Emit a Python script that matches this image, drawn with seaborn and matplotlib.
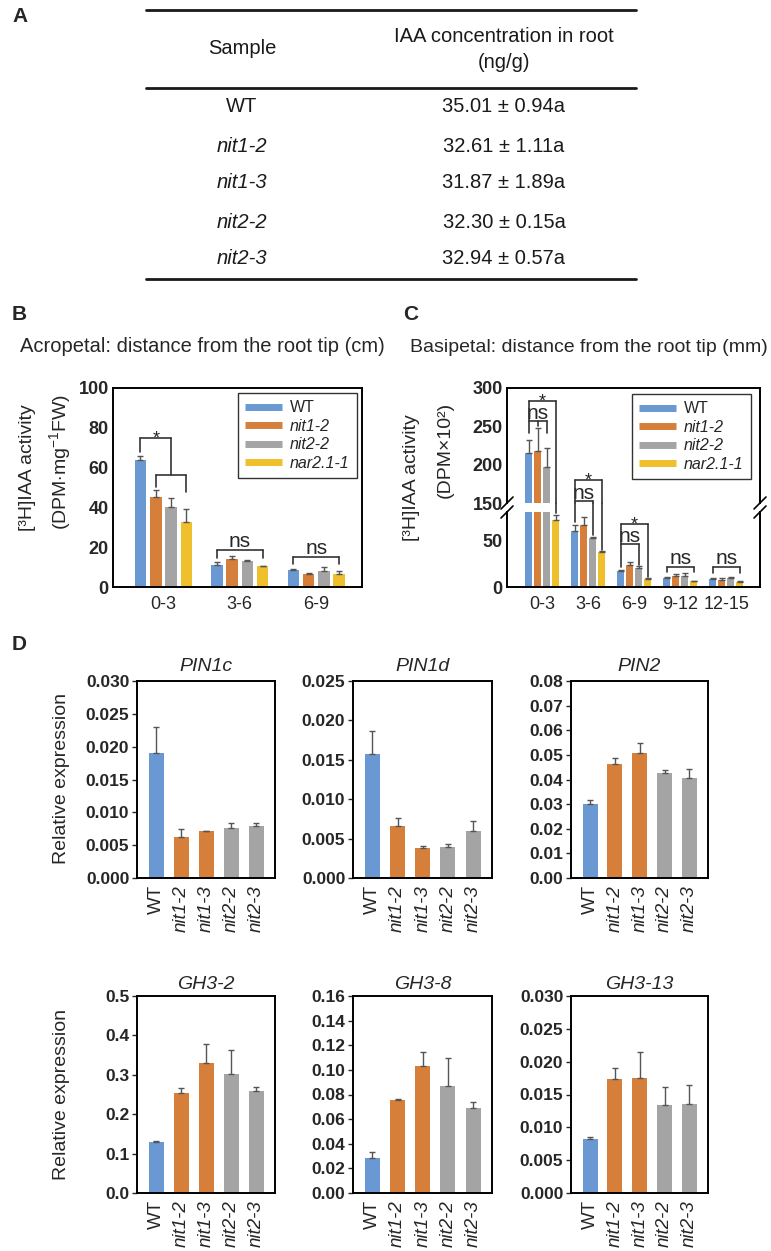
import matplotlib
matplotlib.use("Agg")
import matplotlib.pyplot as plt
from matplotlib.lines import Line2D
import seaborn as sns
import pandas as pd

# ---- A: IAA content table ----
table_samples = ["WT", "nit1-2", "nit1-3", "nit2-2", "nit2-3"]
table_iaa = ["35.01 \u00b1 0.94a", "32.61 \u00b1 1.11a", "31.87 \u00b1 1.89a",
             "32.30 \u00b1 0.15a", "32.94 \u00b1 0.57a"]

# ---- B / C: [3H]IAA transport ----
genotypes = ["WT", "nit1-2", "nit2-2", "nar2.1-1"]

acro_segments = ["0-3", "3-6", "6-9"]
acro_wt = [63.8, 11.3, 8.7]
acro_nit12 = [45.4, 14.1, 6.4]
acro_nit22 = [40.0, 12.9, 8.1]
acro_nar = [32.8, 10.4, 6.7]
acro_wt_err = [2.0, 1.5, 0.3]
acro_nit12_err = [3.3, 1.7, 0.8]
acro_nit22_err = [4.5, 0.7, 2.0]
acro_nar_err = [6.2, 0.3, 1.2]

basi_segments = ["0-3", "3-6", "6-9", "9-12", "12-15"]
basi_wt = [214.8, 60.0, 16.6, 10.0, 8.6]
basi_nit12 = [218.2, 66.4, 23.0, 11.4, 7.8]
basi_nit22 = [197.4, 52.8, 20.0, 12.0, 10.0]
basi_nar = [71.8, 37.8, 8.4, 6.0, 5.4]
basi_wt_err = [18.0, 6.5, 1.6, 1.0, 0.5]
basi_nit12_err = [29.0, 8.3, 3.8, 2.5, 1.5]
basi_nit22_err = [24.0, 0.5, 2.6, 2.5, 0.6]
basi_nar_err = [5.3, 1.0, 1.0, 0.5, 0.5]

# ---- D: relative expression ----
lines = ["WT", "nit1-2", "nit1-3", "nit2-2", "nit2-3"]
genes = ["PIN1c", "PIN1d", "PIN2", "GH3-2", "GH3-8", "GH3-13"]
pin1c = [0.0191, 0.0063, 0.0071, 0.0076, 0.0079]
pin1c_err = [0.0039, 0.0012, 0.0001, 0.0008, 0.0005]
pin1d = [0.0157, 0.0066, 0.0038, 0.0039, 0.0060]
pin1d_err = [0.0030, 0.0010, 0.0002, 0.0004, 0.0012]
pin2 = [0.0300, 0.0462, 0.0507, 0.0428, 0.0405]
pin2_err = [0.0018, 0.0024, 0.0043, 0.0011, 0.0037]
gh3_2 = [0.130, 0.254, 0.329, 0.301, 0.260]
gh3_2_err = [0.002, 0.012, 0.048, 0.061, 0.009]
gh3_8 = [0.0284, 0.0757, 0.1032, 0.0865, 0.0689]
gh3_8_err = [0.0046, 0.0003, 0.0110, 0.0230, 0.0049]
gh3_13 = [0.0082, 0.0173, 0.0175, 0.0134, 0.0135]
gh3_13_err = [0.0003, 0.0017, 0.0039, 0.0027, 0.0029]

sns.set_style("ticks")
plt.rcParams["font.family"] = ["Liberation Sans", "DejaVu Sans"]
plt.rcParams["mathtext.fontset"] = "custom"
plt.rcParams["mathtext.rm"] = "Liberation Sans"
plt.rcParams["mathtext.it"] = "Liberation Sans:italic"
plt.rcParams["mathtext.bf"] = "Liberation Sans:bold"

blue, orange, grey, yellow = "#6a98d2", "#d57f3b", "#a4a4a4", "#f0bf2c"
ink = "#1a1a1a"
err_col = "#555555"
W, H = 771, 1251
fig = plt.figure(figsize=(W / 100, H / 100), dpi=100)


def box(l, t, r, b):
    return [l / W, 1 - b / H, (r - l) / W, (b - t) / H]


def fx(x):
    return x / W


def fy(y):
    return 1 - y / H


def to_fig(ax, x, y):
    d = ax.transData.transform((x, y))
    return fig.transFigure.inverted().transform(d)


def seg(ax1, x1, y1, ax2, x2, y2, lw=1.2):
    p1 = to_fig(ax1, x1, y1)
    p2 = to_fig(ax2, x2, y2)
    fig.add_artist(Line2D([p1[0], p2[0]], [p1[1], p2[1]], color="#333333", lw=lw))


def add_errors(ax, errs, n_hue, width):
    step = width / n_hue
    for bar in ax.patches:
        h = bar.get_height()
        if not h == h or h == 0:
            continue
        xc = bar.get_x() + bar.get_width() / 2
        j = int(round(xc))
        k = int(round((xc - j) / step + (n_hue - 1) / 2))
        ax.errorbar(xc, h, yerr=[[0], [errs[k][j]]], fmt="none", ecolor=err_col,
                    elinewidth=1, capsize=2.2, capthick=1)


def frame(ax, lw=1.4):
    for s in ax.spines.values():
        s.set_linewidth(lw)
        s.set_color("black")


def bold_yticks(ax, ticks, fmt, size):
    ax.set_yticks(ticks)
    ax.set_yticklabels([fmt.format(t) for t in ticks], fontweight="bold", fontsize=size)


# ================= A =================
fig.text(fx(12), fy(16), "A", fontsize=15, fontweight="bold", ha="left", va="center")
for yy in (10, 88, 279):
    fig.add_artist(Line2D([fx(146), fx(636)], [fy(yy), fy(yy)], color=ink, lw=2))
fig.text(fx(242), fy(49), "Sample", fontsize=14.5, ha="center", va="center", color=ink)
fig.text(fx(504), fy(37), "IAA concentration in root", fontsize=14.5, ha="center", va="center", color=ink)
fig.text(fx(504), fy(63), "(ng/g)", fontsize=14.5, ha="center", va="center", color=ink)
for i, (s, v) in enumerate(zip(table_samples, table_iaa)):
    y = [107, 146, 183, 222, 259][i]
    fig.text(fx(242), fy(y), s, fontsize=14.5, ha="center", va="center", color=ink,
             fontstyle="normal" if s == "WT" else "italic")
    fig.text(fx(504), fy(y), v, fontsize=14.5, ha="center", va="center", color=ink)

pal = dict(zip(genotypes, [blue, orange, grey, yellow]))


def geno_legend(ax, anchor):
    handles = [Line2D([0], [0], color=pal[g], lw=5, solid_capstyle="butt") for g in genotypes]
    leg = ax.legend(handles, genotypes, loc="upper right", bbox_to_anchor=anchor, borderaxespad=0,
                    fancybox=False, edgecolor="#333333", fontsize=11.5, handlelength=2.3,
                    handletextpad=0.5, labelspacing=0.22, borderpad=0.45, framealpha=1)
    leg.get_frame().set_linewidth(1)
    for t in leg.get_texts():
        if t.get_text() != "WT":
            t.set_fontstyle("italic")


# ================= B =================
fig.text(fx(12), fy(315), "B", fontsize=15, fontweight="bold", ha="left", va="center")
fig.text(fx(202), fy(347), "Acropetal: distance from the root tip (cm)", fontsize=14.5,
         ha="center", va="center")
acro = pd.DataFrame({
    "segment": acro_segments * 4,
    "genotype": [g for g in genotypes for _ in acro_segments],
    "activity": acro_wt + acro_nit12 + acro_nit22 + acro_nar,
})
ax_b = fig.add_axes(box(113, 388, 362, 587))
sns.barplot(acro, x="segment", y="activity", hue="genotype", order=acro_segments,
            hue_order=genotypes, palette=pal, width=0.8, gap=0.25, saturation=1,
            errorbar=None, legend=False, linewidth=0, ax=ax_b)
add_errors(ax_b, [acro_wt_err, acro_nit12_err, acro_nit22_err, acro_nar_err], 4, 0.8)
ax_b.set_xlim(-0.66, 2.6)
ax_b.set_ylim(0, 100)
bold_yticks(ax_b, [0, 20, 40, 60, 80, 100], "{:d}", 13)
ax_b.tick_params(axis="y", length=0, pad=3)
ax_b.tick_params(axis="x", length=0, pad=6.5, labelsize=13)
ax_b.set_xlabel("")
ax_b.set_ylabel("")
frame(ax_b)
geno_legend(ax_b, (0.98, 0.975))
fig.text(fx(28), fy(468), "[\u00b3H]IAA activity", rotation=90, fontsize=14, ha="center", va="center")
fig.text(fx(60), fy(462), r"(DPM$\cdot$mg$^{-1}$FW)", rotation=90, fontsize=14, ha="center", va="center")


def bx(segment, k):
    return segment + (k - 1.5) * 0.2


# significance marks, B
seg(ax_b, bx(0, 0), 74.7, ax_b, bx(0, 2), 74.7)
seg(ax_b, bx(0, 0), 74.7, ax_b, bx(0, 0), 68)
seg(ax_b, bx(0, 2), 74.7, ax_b, bx(0, 2), 56.3)
seg(ax_b, bx(0, 1), 56.3, ax_b, bx(0, 3), 56.3)
seg(ax_b, bx(0, 1), 56.3, ax_b, bx(0, 1), 50.4)
seg(ax_b, bx(0, 3), 56.3, ax_b, bx(0, 3), 47.7)
ax_b.annotate("*", ((bx(0, 0) + bx(0, 2)) / 2, 74.7), xytext=(0, -4), textcoords="offset points",
              ha="center", va="baseline", fontsize=13)
for s, top, foot in ((1, 18.5, 14.8), (2, 15.1, 11.8)):
    seg(ax_b, bx(s, 0), top, ax_b, bx(s, 3), top)
    seg(ax_b, bx(s, 0), top, ax_b, bx(s, 0), foot)
    seg(ax_b, bx(s, 3), top, ax_b, bx(s, 3), foot)
    ax_b.annotate("ns", (s, top), xytext=(0, 2), textcoords="offset points",
                  ha="center", va="baseline", fontsize=15)

# ================= C =================
fig.text(fx(403), fy(315), "C", fontsize=15, fontweight="bold", ha="left", va="center")
fig.text(fx(589), fy(347), "Basipetal: distance from the root tip (mm)", fontsize=14,
         ha="center", va="center")
basi = pd.DataFrame({
    "segment": basi_segments * 4,
    "genotype": [g for g in genotypes for _ in basi_segments],
    "activity": basi_wt + basi_nit12 + basi_nit22 + basi_nar,
})
basi_errs = [basi_wt_err, basi_nit12_err, basi_nit22_err, basi_nar_err]
ax_ct = fig.add_axes(box(507, 388, 760, 503))
ax_cb = fig.add_axes(box(507, 512, 760, 587))
for ax in (ax_ct, ax_cb):
    sns.barplot(basi, x="segment", y="activity", hue="genotype", order=basi_segments,
                hue_order=genotypes, palette=pal, width=0.78, gap=0.22, saturation=1,
                errorbar=None, legend=False, linewidth=0, ax=ax)
    add_errors(ax, basi_errs, 4, 0.78)
    ax.set_xlim(-0.77, 4.73)
    ax.set_xlabel("")
    ax.set_ylabel("")
    frame(ax)
    ax.tick_params(axis="y", length=0, pad=3)
    ax.tick_params(axis="x", length=0, pad=6.5, labelsize=13)
ax_ct.set_ylim(150, 300)
ax_cb.set_ylim(0, 80)
bold_yticks(ax_ct, [150, 200, 250, 300], "{:d}", 13)
bold_yticks(ax_cb, [0, 50], "{:d}", 13)
ax_ct.set_xticks([])
ax_ct.spines["bottom"].set_visible(False)
ax_cb.spines["top"].set_visible(False)
geno_legend(ax_ct, (0.964, 0.948))
for xb in (507, 760):
    for y0 in (503, 512):
        fig.add_artist(Line2D([fx(xb - 6), fx(xb + 6)], [fy(y0 + 6), fy(y0 - 6)], color="black", lw=1.2))
fig.text(fx(412), fy(478), "[\u00b3H]IAA activity", rotation=90, fontsize=14, ha="center", va="center")
fig.text(fx(445), fy(450), "(DPM\u00d710\u00b2)", rotation=90, fontsize=14, ha="center", va="center")

# value in lower axis that sits where the upper axis ends
gap_low = ax_cb.transData.inverted().transform(ax_ct.transData.transform((0, 150)))[1]


def cx(segment, k):
    return segment + (k - 1.5) * 0.195


def leg_down(k_seg, k, top, foot, top_ax, foot_ax):
    x = cx(k_seg, k)
    if top_ax is foot_ax:
        seg(top_ax, x, top, foot_ax, x, foot)
    else:
        seg(ax_ct, x, top, ax_ct, x, 150)
        seg(ax_cb, x, gap_low, ax_cb, x, foot)


# 0-3
seg(ax_ct, cx(0, 0), 283.4, ax_ct, cx(0, 3), 283.4)
leg_down(0, 0, 283.4, 241, ax_ct, ax_ct)
leg_down(0, 3, 283.4, 79, ax_ct, ax_cb)
seg(ax_ct, cx(0, 0), 257, ax_ct, cx(0, 2), 257)
leg_down(0, 2, 257, 241, ax_ct, ax_ct)
leg_down(0, 1, 257, 250, ax_ct, ax_ct)
ax_ct.annotate("*", (0, 283.4), xytext=(0, -4), textcoords="offset points",
               ha="center", va="baseline", fontsize=13)
ax_ct.annotate("ns", (cx(0, 1), 257), xytext=(0, 1.5), textcoords="offset points",
               ha="center", va="baseline", fontsize=15)
# 3-6
seg(ax_ct, cx(1, 0), 180, ax_ct, cx(1, 3), 180)
seg(ax_ct, cx(1, 0), 153, ax_ct, cx(1, 2), 153)
leg_down(1, 0, 180, 69, ax_ct, ax_cb)
leg_down(1, 2, 153, 55, ax_ct, ax_cb)
leg_down(1, 3, 180, 40, ax_ct, ax_cb)
ax_ct.annotate("*", (1, 180), xytext=(0, -4), textcoords="offset points",
               ha="center", va="baseline", fontsize=13)
ax_ct.annotate("ns", (cx(1, 1), 153), xytext=(0, 1.5), textcoords="offset points",
               ha="center", va="baseline", fontsize=15)
# 6-9
seg(ax_cb, cx(2, 0), 67.5, ax_cb, cx(2, 3), 67.5)
seg(ax_cb, cx(2, 0), 46, ax_cb, cx(2, 2), 46)
leg_down(2, 0, 67.5, 21.6, ax_cb, ax_cb)
leg_down(2, 2, 46, 24, ax_cb, ax_cb)
leg_down(2, 3, 67.5, 11, ax_cb, ax_cb)
ax_cb.annotate("*", (2, 67.5), xytext=(0, -4), textcoords="offset points",
               ha="center", va="baseline", fontsize=13, annotation_clip=False)
ax_cb.annotate("ns", (cx(2, 1), 46), xytext=(0, 1.5), textcoords="offset points",
               ha="center", va="baseline", fontsize=15)
# 9-12, 12-15
for s, foot in ((3, 16.3), (4, 15.0)):
    seg(ax_cb, cx(s, 0), 21.6, ax_cb, cx(s, 3), 21.6)
    leg_down(s, 0, 21.6, foot, ax_cb, ax_cb)
    leg_down(s, 3, 21.6, foot, ax_cb, ax_cb)
    ax_cb.annotate("ns", (s, 21.6), xytext=(0, 2), textcoords="offset points",
                   ha="center", va="baseline", fontsize=15)

# ================= D =================
fig.text(fx(12), fy(645), "D", fontsize=15, fontweight="bold", ha="left", va="center")
d_values = [pin1c, pin1d, pin2, gh3_2, gh3_8, gh3_13]
d_errs = [pin1c_err, pin1d_err, pin2_err, gh3_2_err, gh3_8_err, gh3_13_err]
d_scale = [(0.030, 0.005, "{:.3f}"), (0.025, 0.005, "{:.3f}"), (0.08, 0.01, "{:.2f}"),
           (0.5, 0.1, "{:.1f}"), (0.16, 0.02, "{:.2f}"), (0.030, 0.005, "{:.3f}")]
line_pal = dict(zip(lines, [blue, orange, orange, grey, grey]))
cols = [(137, 275), (353, 492), (571, 708)]
rows = [(681, 878), (996, 1193)]
for i, gene in enumerate(genes):
    r, c = divmod(i, 3)
    ax = fig.add_axes(box(cols[c][0], rows[r][0], cols[c][1], rows[r][1]))
    df = pd.DataFrame({"line": lines, "expr": d_values[i]})
    sns.barplot(df, x="line", y="expr", hue="line", order=lines, hue_order=lines,
                palette=line_pal, width=0.6, saturation=1, errorbar=None, legend=False,
                linewidth=0, ax=ax)
    add_errors(ax, [d_errs[i]], 1, 0.6)
    top, step, fmt = d_scale[i]
    n = int(round(top / step))
    ax.set_ylim(0, top)
    bold_yticks(ax, [step * k for k in range(n + 1)], fmt, 12.5)
    ax.set_xlim(-0.77, 4.75)
    ax.set_xticks(range(len(lines)))
    ax.set_xticklabels(lines, rotation=90, fontsize=13.5)
    for lbl in ax.get_xticklabels():
        if lbl.get_text() != "WT":
            lbl.set_fontstyle("italic")
    ax.tick_params(axis="x", length=0, pad=5)
    ax.tick_params(axis="y", length=3.5, width=1, pad=2)
    ax.set_xlabel("")
    ax.set_ylabel("")
    ax.set_title(gene, fontstyle="italic", fontsize=14, pad=7.4 if r == 0 else 5)
    frame(ax)

fig.text(fx(62), fy(779), "Relative expression", rotation=90, fontsize=14, ha="center", va="center")
fig.text(fx(62), fy(1095), "Relative expression", rotation=90, fontsize=14, ha="center", va="center")

fig.savefig("out.png", dpi=100)
